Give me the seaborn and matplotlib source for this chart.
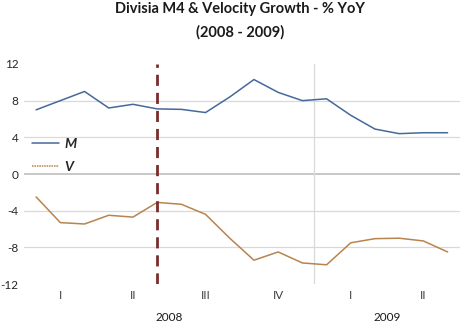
import matplotlib
matplotlib.use("Agg")
import matplotlib.pyplot as plt
import seaborn as sns
import pandas as pd
from matplotlib.lines import Line2D

months = list(range(18))  # Jan 2008 .. Jun 2009
m_values = [7.0, 8.0, 9.0, 7.2, 7.6, 7.1, 7.05, 6.7, 8.4, 10.3, 8.9, 8.0, 8.2, 6.4, 4.9, 4.4, 4.5, 4.5]
v_values = [-2.5, -5.3, -5.45, -4.5, -4.7, -3.1, -3.3, -4.4, -7.0, -9.4, -8.5, -9.7, -9.9, -7.5, -7.05, -7.0, -7.3, -8.5]
quarter_labels = ["I", "II", "III", "IV", "I", "II"]
quarter_pos = [1, 4, 7, 10, 13, 16]
year_labels = ["2008", "2009"]
year_pos = [5.5, 14.5]
y_ticks = [12, 8, 4, 0, -4, -8, -12]
title = "Divisia M4 & Velocity Growth - % YoY\n(2008 - 2009)"

sns.set_style("white")
plt.rcParams['font.family'] = ['Lato', 'DejaVu Sans']

df = pd.DataFrame({
    "month": months * 2,
    "value": m_values + v_values,
    "series": ["M"] * len(months) + ["V"] * len(months),
})

fig = plt.figure(figsize=(4.62, 3.28), dpi=100)
ax = fig.add_axes([0.052, 0.134, 0.943, 0.671])

c_m = "#46689A"
c_v = "#B8844E"

sns.lineplot(data=df[df.series == "M"], x="month", y="value", ax=ax,
             color=c_m, linewidth=1.1, legend=False)
sns.lineplot(data=df[df.series == "V"], x="month", y="value", ax=ax,
             color=c_v, linewidth=1.1, legend=False)

ax.set_xlim(-0.5, 17.5)
ax.set_ylim(-12, 12)

for y in [8, 4, -4, -8]:
    ax.axhline(y, color="#D9D9D9", linewidth=0.9, zorder=0)
ax.axhline(0, color="#BFBFBF", linewidth=1.2, zorder=0)
ax.axvline(11.5, color="#D9D9D9", linewidth=0.9, zorder=0)
ax.axvline(5, color="#7B2C2C", linewidth=2.0, linestyle=(0, (4, 2.5)), zorder=3)

for s in ax.spines.values():
    s.set_visible(False)

ax.set_yticks(y_ticks)
ax.set_yticklabels([str(t) for t in y_ticks], fontsize=8.5, color="#262626")
ax.tick_params(axis="y", length=0, pad=4)
ax.set_xticks([])
ax.set_xlabel("")
ax.set_ylabel("")

for lbl, p in zip(quarter_labels, quarter_pos):
    ax.text(p, -0.05, lbl, transform=ax.get_xaxis_transform(), ha="center", va="center",
            fontsize=8.5, color="#404040")
for lbl, p in zip(year_labels, year_pos):
    ax.text(p, -0.15, lbl, transform=ax.get_xaxis_transform(), ha="center", va="center",
            fontsize=8.5, color="#1a1a1a")

fig.text(0.52, 0.995, title, ha="center", va="top", fontsize=10.5, fontweight="bold",
         color="#1a1a1a", linespacing=1.85)

handles = [Line2D([0], [0], color=c_m, linewidth=1.1),
           Line2D([0], [0], color=c_v, linewidth=1.1, linestyle=(0, (1, 0.6)))]
ax.legend(handles, ["M", "V"], loc="upper left", bbox_to_anchor=(-0.01, 0.72),
          frameon=False, handlelength=1.9, handletextpad=0.45, labelspacing=0.8,
          prop={"weight": "bold", "style": "italic", "size": 10})

fig.savefig("out.png", dpi=100)
